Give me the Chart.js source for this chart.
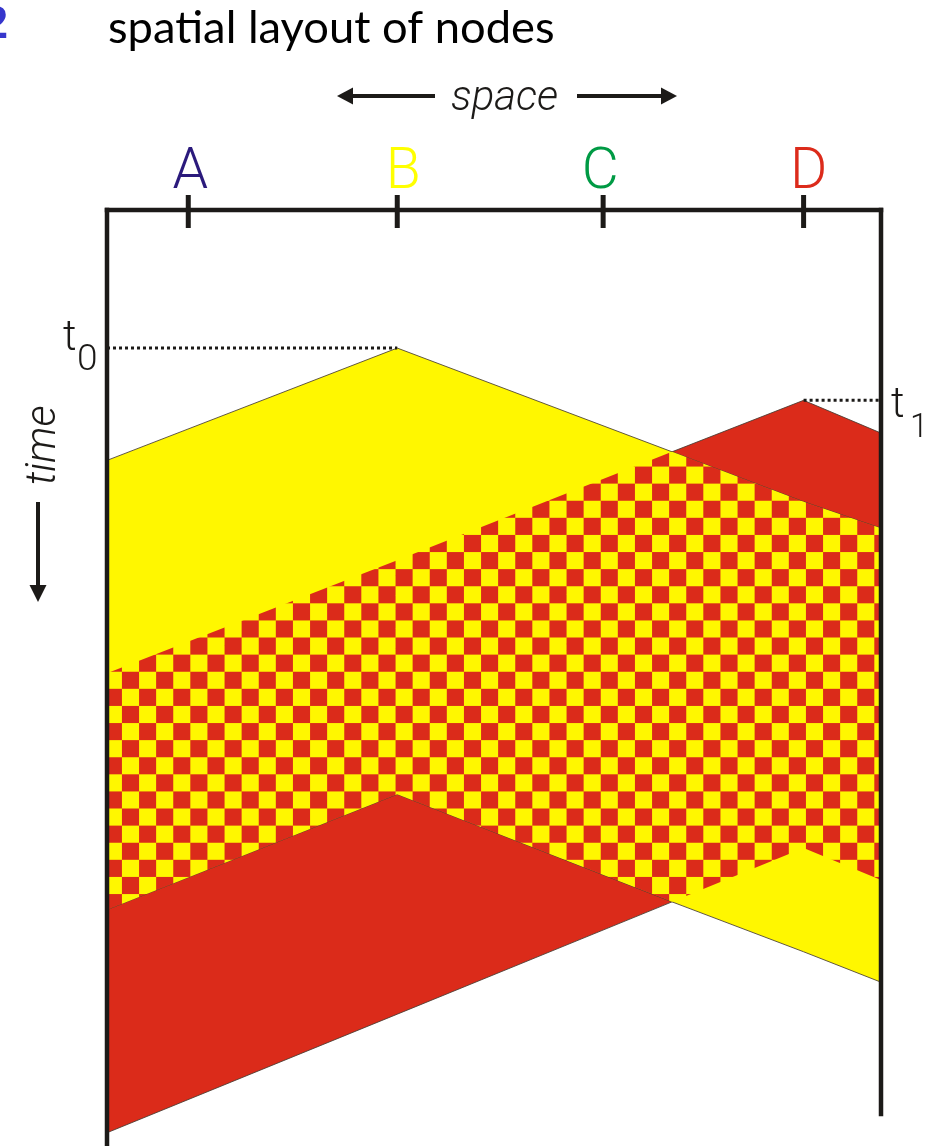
<!DOCTYPE html>
<html><head><meta charset="utf-8">
<script src="https://cdn.jsdelivr.net/npm/chart.js@4.4.0/dist/chart.umd.min.js"></script>
<style>html,body{margin:0;padding:0;background:#fff;overflow:hidden}canvas{display:block}</style>
</head><body>
<canvas id="c" width="927" height="1146"></canvas>
<script>
// ---------------- data ----------------
const nodeNames     = ['A', 'B', 'C', 'D'];
const nodePositions = [10.5, 37.5, 64.1, 90.0];      // space units: 0 = left wall, 100 = right wall
const edgeSpace     = [0, 37.5, 73.0, 90.0, 100];     // space positions where the wave edges are sampled
const yellowFront   = [32.1, 17.7, 31.0, 37.4, 40.8]; // time units (grows downward)
const yellowTail    = [89.7, 74.9, 88.7, 95.1, 99.0];
const redFront      = [59.4, 44.9, 31.0, 24.4, 28.6];
const redTail       = [118.3, 103.1, 88.7, 81.8, 85.9];
const t0 = 17.7;   // B starts transmitting
const t1 = 24.4;   // D starts transmitting
const spaceRange = [0, 100];
const timeRange  = [0, 120];
const wallEnds   = [120, 115.9];                      // left wall, right wall (time units)

// ---------------- styles ----------------
const RED = '#db2b1a', YELLOW = '#fff700', INK = '#1c1a18', EDGE = 'rgba(70,60,50,0.85)';
const nodeColors = ['#2b1a7c', '#ffff00', '#009a44', '#dc2b1b'];
const labelNudge = [2, 6, -3, 5];

const canvas = document.getElementById('c');
const ctx0 = canvas.getContext('2d');

// checkerboard pattern for the collision zone
const tile = document.createElement('canvas');
tile.width = 34; tile.height = 34;
const tg = tile.getContext('2d');
tg.fillStyle = YELLOW; tg.fillRect(0, 0, 34, 34);
tg.fillStyle = RED; tg.fillRect(0, 0, 17, 17); tg.fillRect(17, 17, 17, 17);
const checker = ctx0.createPattern(tile, 'repeat');
checker.setTransform(new DOMMatrix().translate(19.3, 21.9).scale(17.1 / 17));

const pts = ys => edgeSpace.map((x, i) => ({x, y: ys[i]}));
const bothFront = yellowFront.map((v, i) => Math.max(v, redFront[i]));
const bothTail  = yellowTail.map((v, i) => Math.min(v, redTail[i]));

const base = {pointRadius: 0, tension: 0, fill: false};
const frame = {...base, borderColor: INK, borderWidth: 4.5, borderCapStyle: 'square', clip: false};

const datasets = [
  {...base, data: pts(redFront), fill: {target: 1}, backgroundColor: RED, borderColor: EDGE, borderWidth: 1, order: 20},
  {...base, data: pts(redTail), borderColor: EDGE, borderWidth: 1, order: 19},
  {...base, data: pts(yellowFront), fill: {target: 3}, backgroundColor: YELLOW, borderColor: EDGE, borderWidth: 1, order: 18},
  {...base, data: pts(yellowTail), borderColor: EDGE, borderWidth: 1, order: 17},
  {...base, data: pts(bothFront), fill: {target: 5}, backgroundColor: checker, borderWidth: 0, order: 16},
  {...base, data: pts(bothTail), borderWidth: 0, order: 15},
  {...frame, data: [{x: spaceRange[0], y: timeRange[0]}, {x: spaceRange[0], y: wallEnds[0]}], order: 5},
  {...frame, data: [{x: spaceRange[1], y: timeRange[0]}, {x: spaceRange[1], y: wallEnds[1]}], order: 5},
  {...frame, data: [{x: spaceRange[0], y: timeRange[0]}, {x: spaceRange[1], y: timeRange[0]}], order: 5},
  {...base, data: [{x: spaceRange[0], y: t0}, {x: nodePositions[1], y: t0}], borderColor: INK, borderWidth: 3, borderDash: [3, 3], clip: false, order: 4},
  {...base, data: [{x: nodePositions[3], y: t1}, {x: spaceRange[1], y: t1}], borderColor: INK, borderWidth: 3, borderDash: [3, 3], clip: false, order: 4}
];

function arrowHead(ctx, tipX, tipY, dx, dy, len, half) {
  const bx = tipX - dx * len, by = tipY - dy * len;
  ctx.beginPath();
  ctx.moveTo(tipX, tipY);
  ctx.lineTo(bx - dy * half, by + dx * half);
  ctx.lineTo(bx + dy * half, by - dx * half);
  ctx.closePath();
  ctx.fill();
}

const decor = {
  id: 'decor',
  afterDatasetsDraw(chart) {
    const {ctx, scales: {x, y}} = chart;
    ctx.save();
    const yTop = y.getPixelForValue(timeRange[0]);
    const xL = x.getPixelForValue(spaceRange[0]);
    const xR = x.getPixelForValue(spaceRange[1]);

    // node ticks and labels
    ctx.textBaseline = 'alphabetic';
    nodePositions.forEach((p, i) => {
      const px = x.getPixelForValue(p);
      ctx.strokeStyle = INK; ctx.lineWidth = 5;
      ctx.beginPath(); ctx.moveTo(px, yTop - 15); ctx.lineTo(px, yTop + 18); ctx.stroke();
      ctx.fillStyle = nodeColors[i];
      ctx.font = '300 57px Roboto';
      ctx.textAlign = 'center';
      ctx.fillText(nodeNames[i], px + labelNudge[i], yTop - 22);
    });

    // title
    ctx.fillStyle = '#000';
    ctx.textAlign = 'left';
    ctx.font = '400 38px Lato';
    const w = ctx.measureText('spatial layout of nodes').width;
    const fs = 38 * 447 / w;
    ctx.font = '400 ' + fs.toFixed(1) + 'px Lato';
    ctx.fillText('spatial layout of nodes', xL + 1, 43);

    // cut-off blue glyph at top-left edge
    ctx.fillStyle = '#3636cc';
    ctx.font = 'bold 46px "Liberation Sans"';
    ctx.textAlign = 'right';
    ctx.fillText('2', 8, 38);

    // space label with arrows
    ctx.fillStyle = INK; ctx.strokeStyle = INK;
    ctx.font = 'italic 300 42px Roboto';
    ctx.textAlign = 'left';
    ctx.fillText('space', 451, 110);
    ctx.lineWidth = 4;
    ctx.beginPath(); ctx.moveTo(435, 96); ctx.lineTo(350, 96); ctx.stroke();
    arrowHead(ctx, 337, 96, -1, 0, 16, 8.5);
    ctx.beginPath(); ctx.moveTo(577, 96); ctx.lineTo(664, 96); ctx.stroke();
    arrowHead(ctx, 677, 96, 1, 0, 16, 8.5);

    // time label with arrow
    ctx.save();
    ctx.translate(55, 485);
    ctx.rotate(-Math.PI / 2);
    ctx.font = 'italic 300 42px Roboto';
    ctx.textAlign = 'left';
    ctx.fillText('time', 0, 0);
    ctx.restore();
    ctx.beginPath(); ctx.moveTo(38, 502); ctx.lineTo(38, 588); ctx.stroke();
    arrowHead(ctx, 38, 602, 0, 1, 17, 8.5);

    // t0 / t1 labels
    const yt0 = y.getPixelForValue(t0), yt1 = y.getPixelForValue(t1);
    ctx.font = '300 42px Roboto';
    ctx.textAlign = 'left';
    ctx.fillText('t', xL - 44, yt0 + 2);
    ctx.font = '300 37px Roboto';
    ctx.fillText('0', xL - 30, yt0 + 22);
    ctx.font = '300 42px Roboto';
    ctx.fillText('t', xR + 10, yt1 + 17);
    ctx.font = '300 33px Roboto';
    ctx.fillText('1', xR + 29, yt1 + 37);
    ctx.restore();
  }
};

new Chart(canvas, {
  type: 'line',
  data: {datasets},
  options: {
    responsive: false,
    animation: false,
    devicePixelRatio: 1,
    layout: {padding: {left: 107, right: 927 - 881, top: 210, bottom: 0}},
    scales: {
      x: {type: 'linear', min: spaceRange[0], max: spaceRange[1], display: false},
      y: {type: 'linear', min: timeRange[0], max: timeRange[1], reverse: true, display: false}
    },
    plugins: {legend: {display: false}, tooltip: {enabled: false}, title: {display: false}}
  },
  plugins: [decor]
});
</script>
</body></html>
